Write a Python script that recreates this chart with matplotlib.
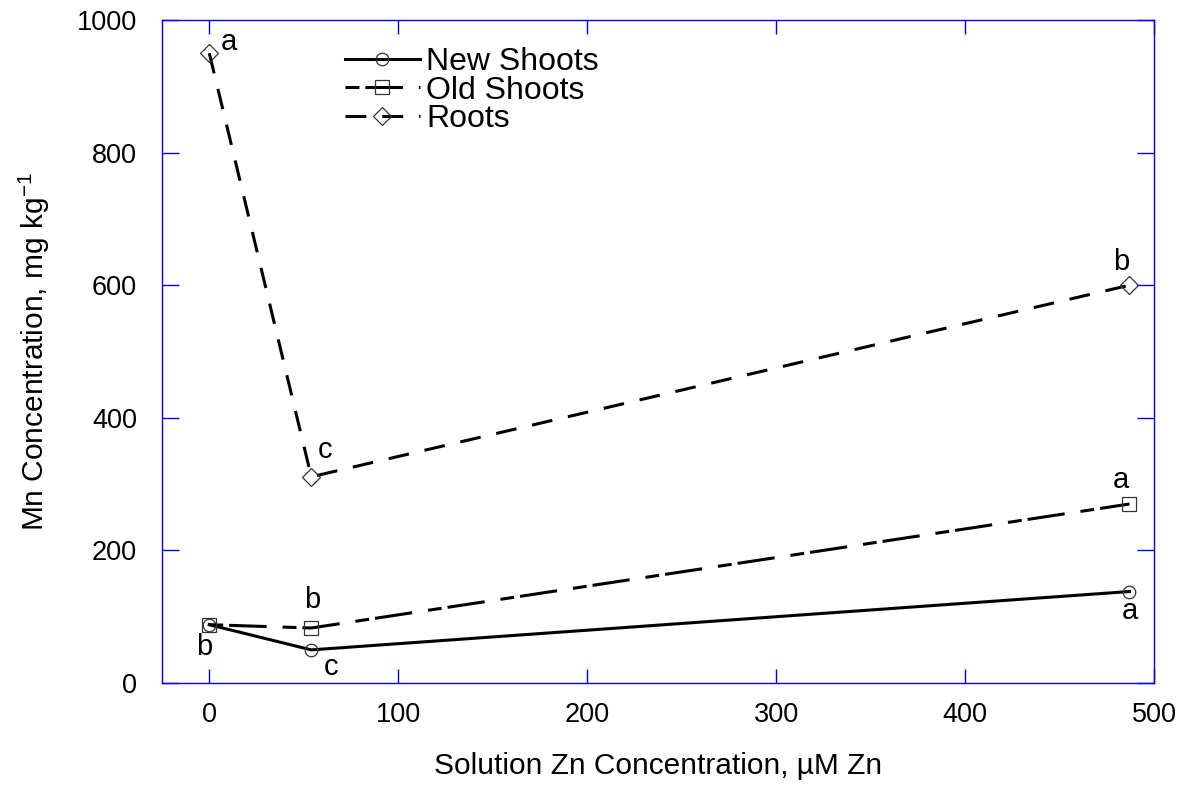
import matplotlib
matplotlib.use("Agg")
import matplotlib.pyplot as plt

plt.rcParams['font.family'] = ['Liberation Sans', 'DejaVu Sans']
plt.rcParams['mathtext.fontset'] = 'custom'
plt.rcParams['mathtext.rm'] = 'Liberation Sans'
plt.rcParams['lines.scale_dashes'] = False

zn = [0, 54, 487]
new_shoots = [88, 50, 138]
old_shoots = [88, 83, 270]
roots = [950, 311, 600]

new_letters = ["", "c", "a"]
old_letters = ["b", "b", "a"]
root_letters = ["a", "c", "b"]

fig = plt.figure(figsize=(11.88, 7.86), dpi=100)
ax = fig.add_axes([0.1364, 0.131, 0.835, 0.8436])

lw = 2.2
mk = dict(mfc="none", mec="#333333", mew=0.9)
ax.plot(zn, new_shoots, "-", color="black", lw=lw, marker="o", ms=9,
        label="New Shoots", zorder=3, **mk)
ax.plot(zn, old_shoots, color="black", lw=lw, dashes=(10, 4.3, 27, 11.5),
        marker="s", ms=10, label="Old Shoots", zorder=3, **mk)
ax.plot(zn, roots, color="black", lw=lw, dashes=(15, 11.5), marker="D", ms=9,
        label="Roots", zorder=3, **mk)

# letter labels (offsets in points)
new_off = [(0, 0), (14, -12), (0, -14)]
old_off = [(-4, -16), (1, 20), (-6, 17)]
root_off = [(14, 8), (10, 19), (-6, 17)]
for letters, vals, offs in [(new_letters, new_shoots, new_off),
                            (old_letters, old_shoots, old_off),
                            (root_letters, roots, root_off)]:
    for x, y, t, o in zip(zn, vals, letters, offs):
        if t:
            ax.annotate(t, xy=(x, y), xytext=o, textcoords="offset points",
                        ha="center", va="center", fontsize=21)

ax.set_xlim(-25, 500)
ax.set_ylim(0, 1000)
ax.set_xticks([0, 100, 200, 300, 400, 500])
ax.set_yticks([0, 200, 400, 600, 800, 1000])

for s in ax.spines.values():
    s.set_color("blue")
    s.set_linewidth(1.0)
ax.tick_params(axis="both", direction="in", top=True, right=True,
               color="blue", labelsize=19.5, width=1.0)
ax.tick_params(axis="x", length=10, pad=14)
ax.tick_params(axis="y", length=12, pad=18)

ax.set_xlabel("Solution Zn Concentration, µM Zn", fontsize=21.5, labelpad=17)
ax.set_ylabel("Mn Concentration, mg kg$^{-1}$", fontsize=21.5, labelpad=18)

ax.legend(loc="upper left", bbox_to_anchor=(0.168, 0.983), frameon=False,
          fontsize=23, handlelength=2.35, handletextpad=0.2,
          labelspacing=-0.05, borderpad=0)

fig.savefig("out.png", dpi=100)
